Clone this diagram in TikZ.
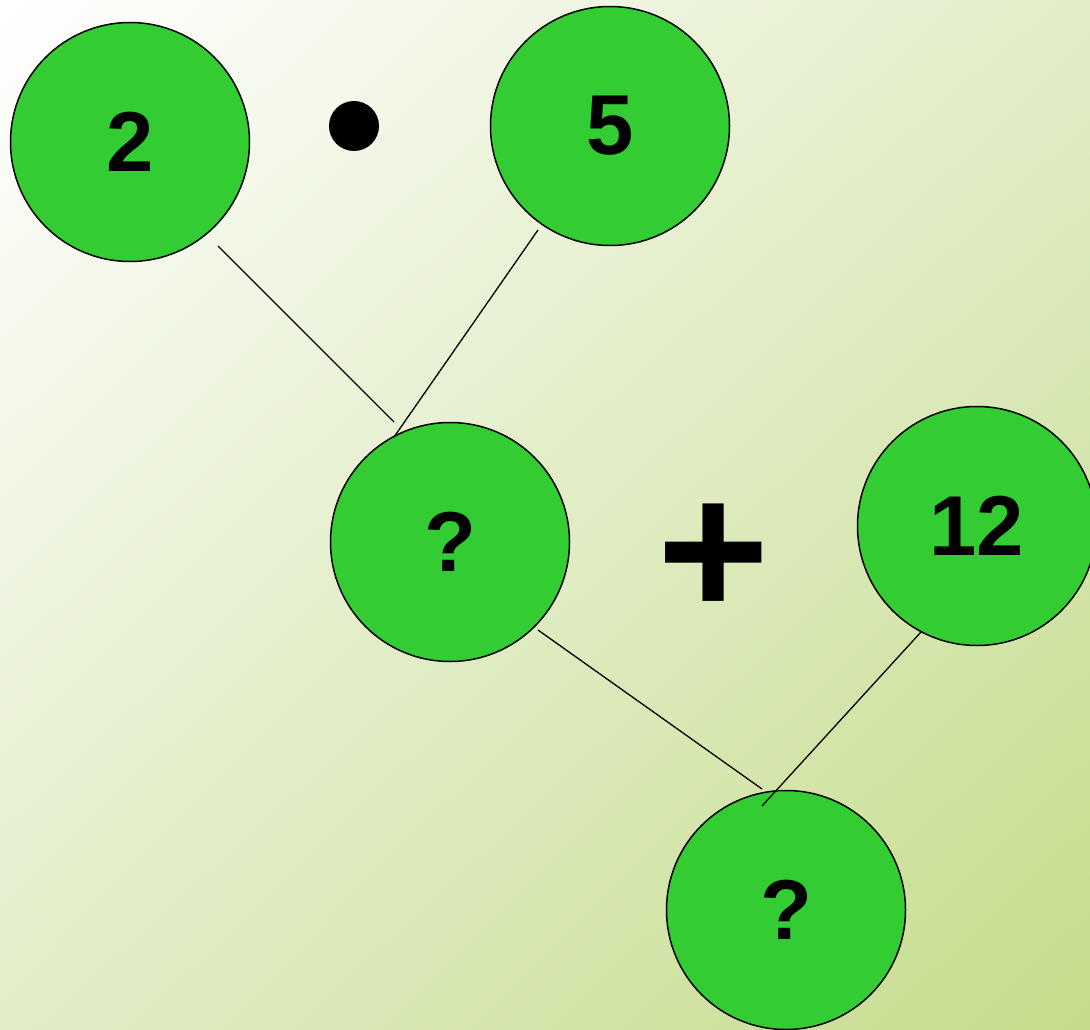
\documentclass[tikz,border=0pt]{standalone}
\usepackage{fontspec}
\setmainfont{Liberation Sans}
\usetikzlibrary{calc,shadings}
\definecolor{ballgreen}{RGB}{51,204,51}
\definecolor{bgdark}{RGB}{196,220,138}
\definecolor{bgmid}{RGB}{226,237,200}
\tikzset{
  ball/.style={circle, draw=black, line width=1.5pt, fill=ballgreen, minimum size=239pt, inner sep=0pt,
    font=\fontsize{85}{90}\selectfont\bfseries, text=black},
  link/.style={draw=black, line width=1.3pt},
}
\begin{document}
\begin{tikzpicture}[x=1pt,y=-1pt]
\useasboundingbox (0,0) rectangle (1090,1030);
\shade[upper left=white, upper right=bgmid, lower left=bgmid, lower right=bgdark] (0,0) rectangle (1090,1030);
\node[ball] (a) at (130,142) {2};
\node[ball] (b) at (610,126) {5};
\node[ball] (c) at (450,542) {?};
\node[ball] (d) at (977,526) {12};
\node[ball] (e) at (786,910) {?};
\node[circle, fill=black, minimum size=50pt, inner sep=0pt] (dot) at (354,126) {};
\node[font=\fontsize{192}{200}\selectfont\bfseries, inner sep=0pt] (plus) at (714,560) {+};
\draw[link] ($(a)+(88,104)$) -- ($(c)+(-56,-120)$);
\draw[link] ($(b)+(-72,104)$) -- ($(c)+(-56,-105)$);
\draw[link] ($(c)+(88,88)$) -- ($(e)+(-24,-121)$);
\draw[link] ($(d)+(-56,106)$) -- ($(e)+(-24,-104)$);
\end{tikzpicture}
\end{document}
